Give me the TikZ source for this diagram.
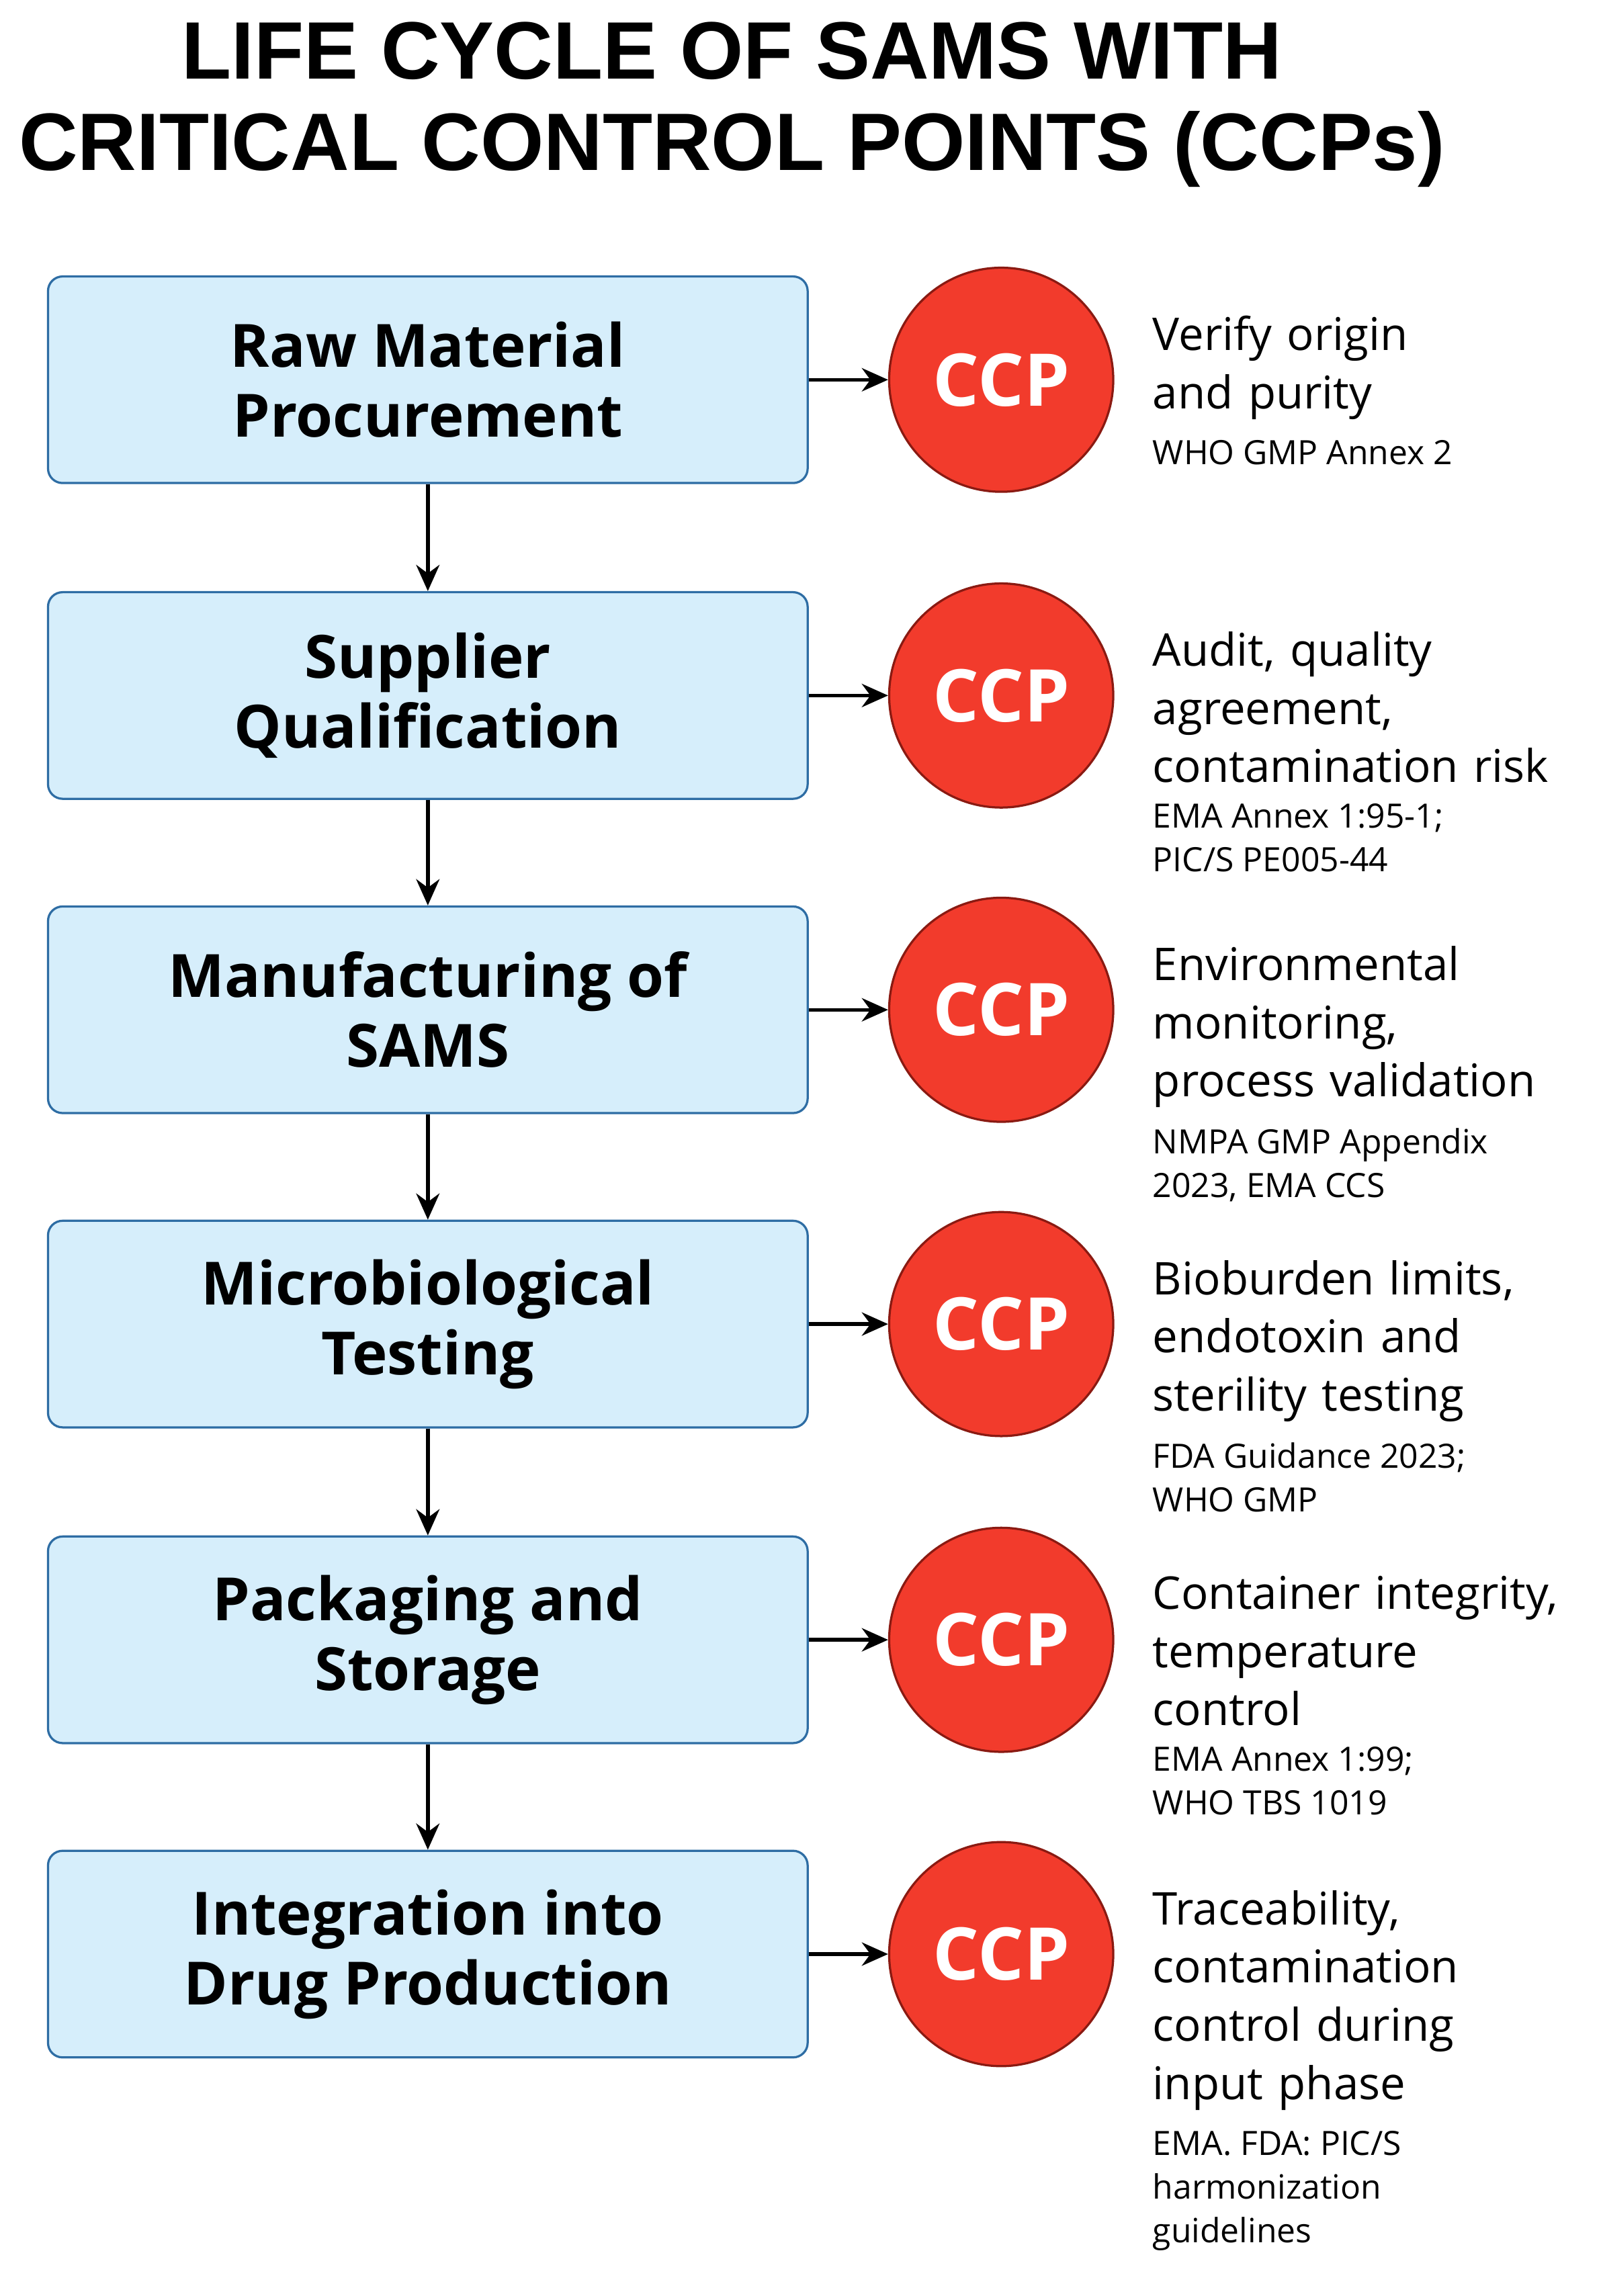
\documentclass[tikz,border=0pt]{standalone}
\usepackage{fontspec}
\setmainfont{Open Sans}
\newfontfamily\titlefont{Liberation Sans}
\usetikzlibrary{arrows.meta}
\definecolor{boxfill}{HTML}{D6EEFB}
\definecolor{boxline}{HTML}{2E6DA4}
\definecolor{ccpred}{HTML}{F23B2C}
\definecolor{ccpline}{HTML}{8A1A12}
\begin{document}
\begin{tikzpicture}[x=1pt,y=-1pt,
  stage/.style={draw=boxline,line width=1.5pt,fill=boxfill,rounded corners=10pt,minimum width=522pt,minimum height=142pt,align=center,font=\fontsize{41}{48}\selectfont\bfseries},
  ccp/.style={circle,draw=ccpline,line width=1.5pt,fill=ccpred,minimum size=154pt,inner sep=0pt,text=white,font=\fontsize{50}{56}\selectfont\bfseries},
  note/.style={anchor=north west,align=left,inner sep=0pt,text width=300pt,font=\fontsize{31}{40}\selectfont},
  small/.style={anchor=north west,align=left,inner sep=0pt,font=\fontsize{23}{30}\selectfont},
  arr/.style={-{Stealth[length=18pt,width=16pt]},line width=2.5pt}]
\useasboundingbox (0,0) rectangle (1100,1578);
\fill[white] (0,0) rectangle (1100,1578);
\node[font=\titlefont\fontsize{56}{63}\selectfont\bfseries,align=center] (title) at (503,72) {LIFE CYCLE OF SAMS WITH\\CRITICAL CONTROL POINTS (CCPs)};
\foreach \i/\y/\t/\n/\m in {
 1/261/{Raw Material\\Procurement}/{Verify origin\\and purity}/{WHO GMP Annex 2},
 2/478/{Supplier\\Qualification}/{Audit, quality\\agreement,\\contamination risk}/{EMA Annex 1:95-1;\\PIC/S PE005-44},
 3/694/{Manufacturing of\\SAMS}/{Environmental\\monitoring,\\process validation}/{NMPA GMP Appendix\\2023, EMA CCS},
 4/910/{Microbiological\\Testing}/{Bioburden limits,\\endotoxin and\\sterility testing}/{FDA Guidance 2023;\\WHO GMP},
 5/1127/{Packaging and\\Storage}/{Container integrity,\\temperature\\control}/{EMA Annex 1:99;\\WHO TBS 1019},
 6/1343/{Integration into\\Drug Production}/{Traceability,\\contamination\\control during\\input phase}/{EMA. FDA: PIC/S\\harmonization\\guidelines}}{
  \node[stage] (s\i) at (294,\y) {\t};
  \node[ccp] (c\i) at (688,\y) {CCP};
  \node[note] (n\i) at (792,\y-44) {\n};
  \node[small] (m\i) at ([yshift=-14pt]n\i.south west) {\m};
  \draw[arr] (s\i.east) -- (c\i.west);
}
\foreach \a/\b in {1/2,2/3,3/4,4/5,5/6}{\draw[arr] (s\a.south) -- (s\b.north);}
\end{tikzpicture}
\end{document}
